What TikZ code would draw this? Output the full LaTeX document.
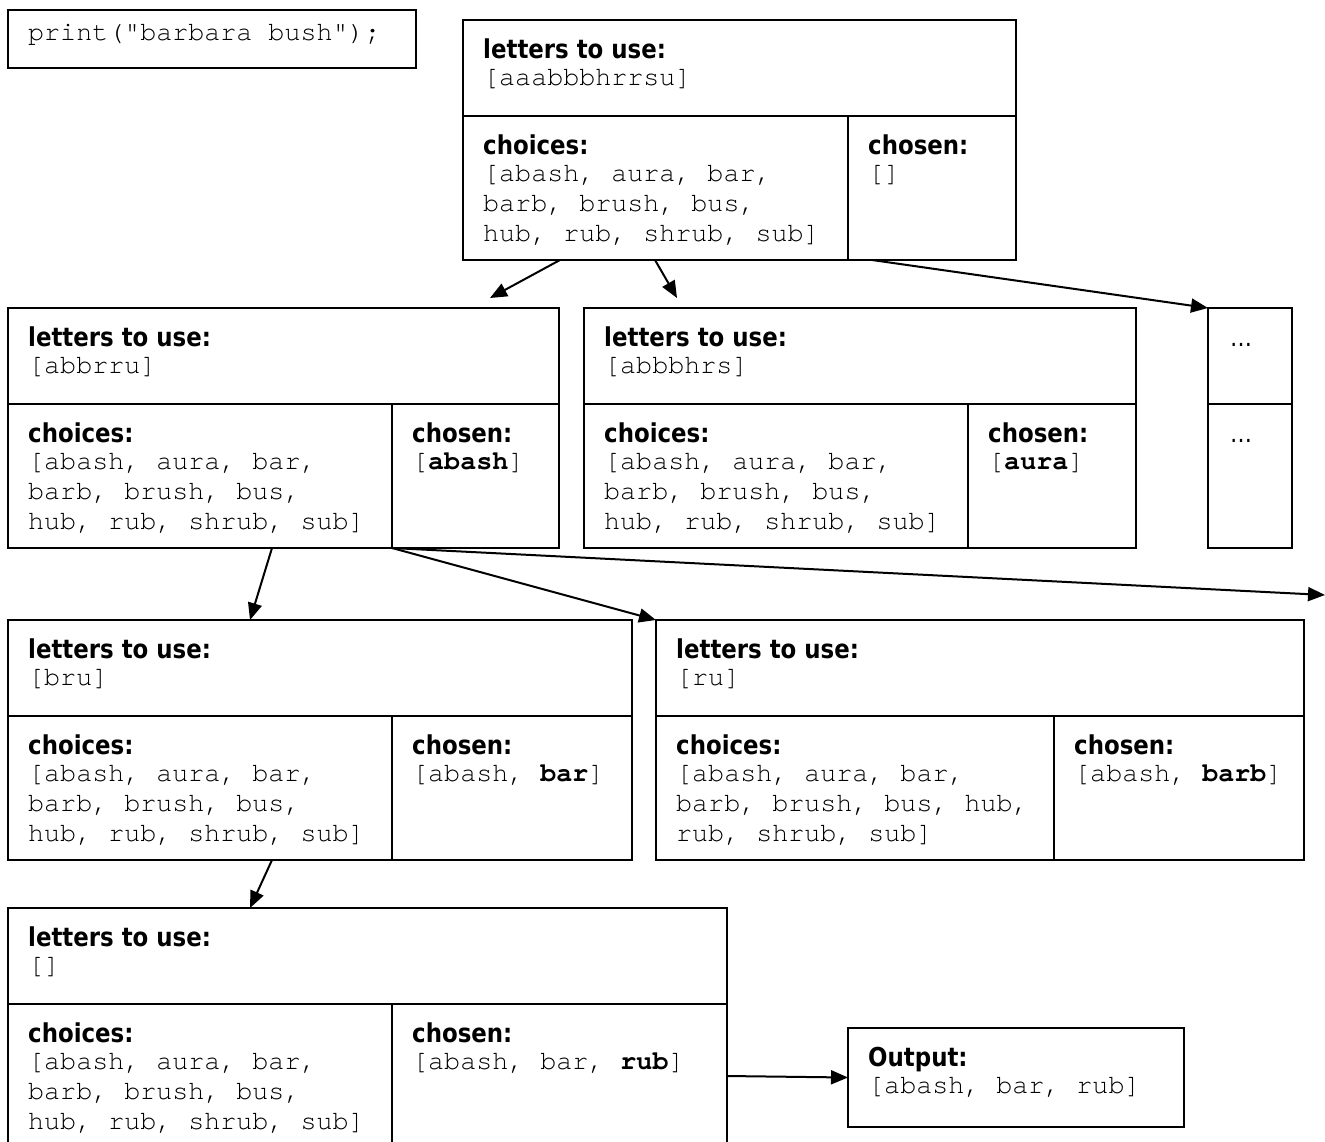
\documentclass[tikz,border=0pt]{standalone}
\usepackage{fontspec}
\usetikzlibrary{arrows.meta, positioning, calc}
\newfontfamily\monofont{TeX Gyre Cursor}
\newfontfamily\lblfont[FakeStretch=0.88]{DejaVu Sans}

% one search state: letters cell on top, choices and chosen below
% (a node of three lines sits on its last baseline, hence -125)
\newcommand\statebox[8]{%
  \node[cell, minimum width=#4pt, minimum height=96pt] (#1-let) at (#2,#3) {};
  \node[cell, minimum width=#5pt, minimum height=144pt] (#1-cho) at (#1-let.south west) {};
  \node[cell, minimum width=#4pt-#5pt, minimum height=144pt] (#1-sel) at (#1-cho.north east) {};
  \node[lbl]  (#1-let-h) at ([shift={(20,-38)}]#1-let.north west) {letters to use:};
  \node[mono] (#1-let-t) at ([shift={(20,-65)}]#1-let.north west) {#6};
  \node[lbl]  (#1-cho-h) at ([shift={(20,-38)}]#1-cho.north west) {choices:};
  \node[mono] (#1-cho-t) at ([shift={(20,-125)}]#1-cho.north west) {#7};
  \node[lbl]  (#1-sel-h) at ([shift={(20,-38)}]#1-sel.north west) {chosen:};
  \node[mono] (#1-sel-t) at ([shift={(20,-65)}]#1-sel.north west) {#8};
}
\newcommand\allwords{[abash, aura, bar,\\barb, brush, bus,\\hub, rub, shrub, sub]}

\begin{document}
\begin{tikzpicture}[x=1pt, y=1pt,
    cell/.style={draw, line width=2pt, anchor=north west, inner sep=0pt, outer sep=0pt},
    lbl/.style={anchor=base west, inner sep=0pt, font=\lblfont\bfseries\fontsize{26}{30}\selectfont},
    mono/.style={anchor=base west, inner sep=0pt, align=left,
                 font=\monofont\fontsize{26.7}{30}\selectfont},
    dots/.style={anchor=base west, inner sep=0pt, font=\lblfont\fontsize{25}{30}\selectfont},
    edge/.style={line width=2pt, -{Triangle[length=17pt, width=14pt]}}]
  \useasboundingbox (0,0) rectangle (1325,-1141);

  \node[cell, minimum width=408pt, minimum height=58pt] (code) at (8,-10) {};
  \node[mono] (code-t) at ([shift={(20,-30)}]code.north west) {print("barbara bush");};

  \statebox{root}{463}{-20}{553}{385}{[aaabbbhrrsu]}{\allwords}{[]}
  \statebox{A}{8}{-308}{551}{384}{[abbrru]}{\allwords}{[\textbf{abash}]}
  \statebox{B}{584}{-308}{552}{384}{[abbbhrs]}{\allwords}{[\textbf{aura}]}
  \statebox{C}{8}{-620}{624}{384}{[bru]}{\allwords}{[abash, \textbf{bar}]}
  \statebox{D}{656}{-620}{648}{398}{[ru]}{[abash, aura, bar,\\barb, brush, bus, hub,\\rub, shrub, sub]}{[abash, \textbf{barb}]}
  \statebox{E}{8}{-908}{719}{384}{[]}{\allwords}{[abash, bar, \textbf{rub}]}

  % the rest of the tree
  \node[cell, minimum width=84pt, minimum height=96pt] (dots-let) at (1208,-308) {};
  \node[cell, minimum width=84pt, minimum height=144pt] (dots-cho) at (dots-let.south west) {};
  \node[dots] (dots-let-t) at ([shift={(22,-38)}]dots-let.north west) {…};
  \node[dots] (dots-cho-t) at ([shift={(22,-38)}]dots-cho.north west) {…};

  \node[cell, minimum width=336pt, minimum height=99pt] (out) at (848,-1028) {};
  \node[lbl]  (out-h) at ([shift={(20,-38)}]out.north west) {Output:};
  \node[mono] (out-t) at ([shift={(20,-65)}]out.north west) {[abash, bar, rub]};

  \coordinate (more) at (1325,-595);

  \draw[edge] ([xshift=97pt]root-cho.south west) -- ([shift={(482,10)}]A-let.north west);
  \draw[edge] ([xshift=192pt]root-cho.south west) -- ([shift={(93,10)}]B-let.north west);
  \draw[edge] ([xshift=24pt]root-sel.south west) -- (dots-let.north west);
  \draw[edge] ([xshift=264pt]A-cho.south west) -- ([xshift=242pt]C-let.north west);
  \draw[edge] (A-sel.south west) -- (D-let.north west);
  \draw[edge] (A-sel.south west) -- (more);
  \draw[edge] ([xshift=264pt]C-cho.south west) -- ([xshift=242pt]E-let.north west);
  \draw[edge] (E-sel.east) -- (out.west);
\end{tikzpicture}
\end{document}
